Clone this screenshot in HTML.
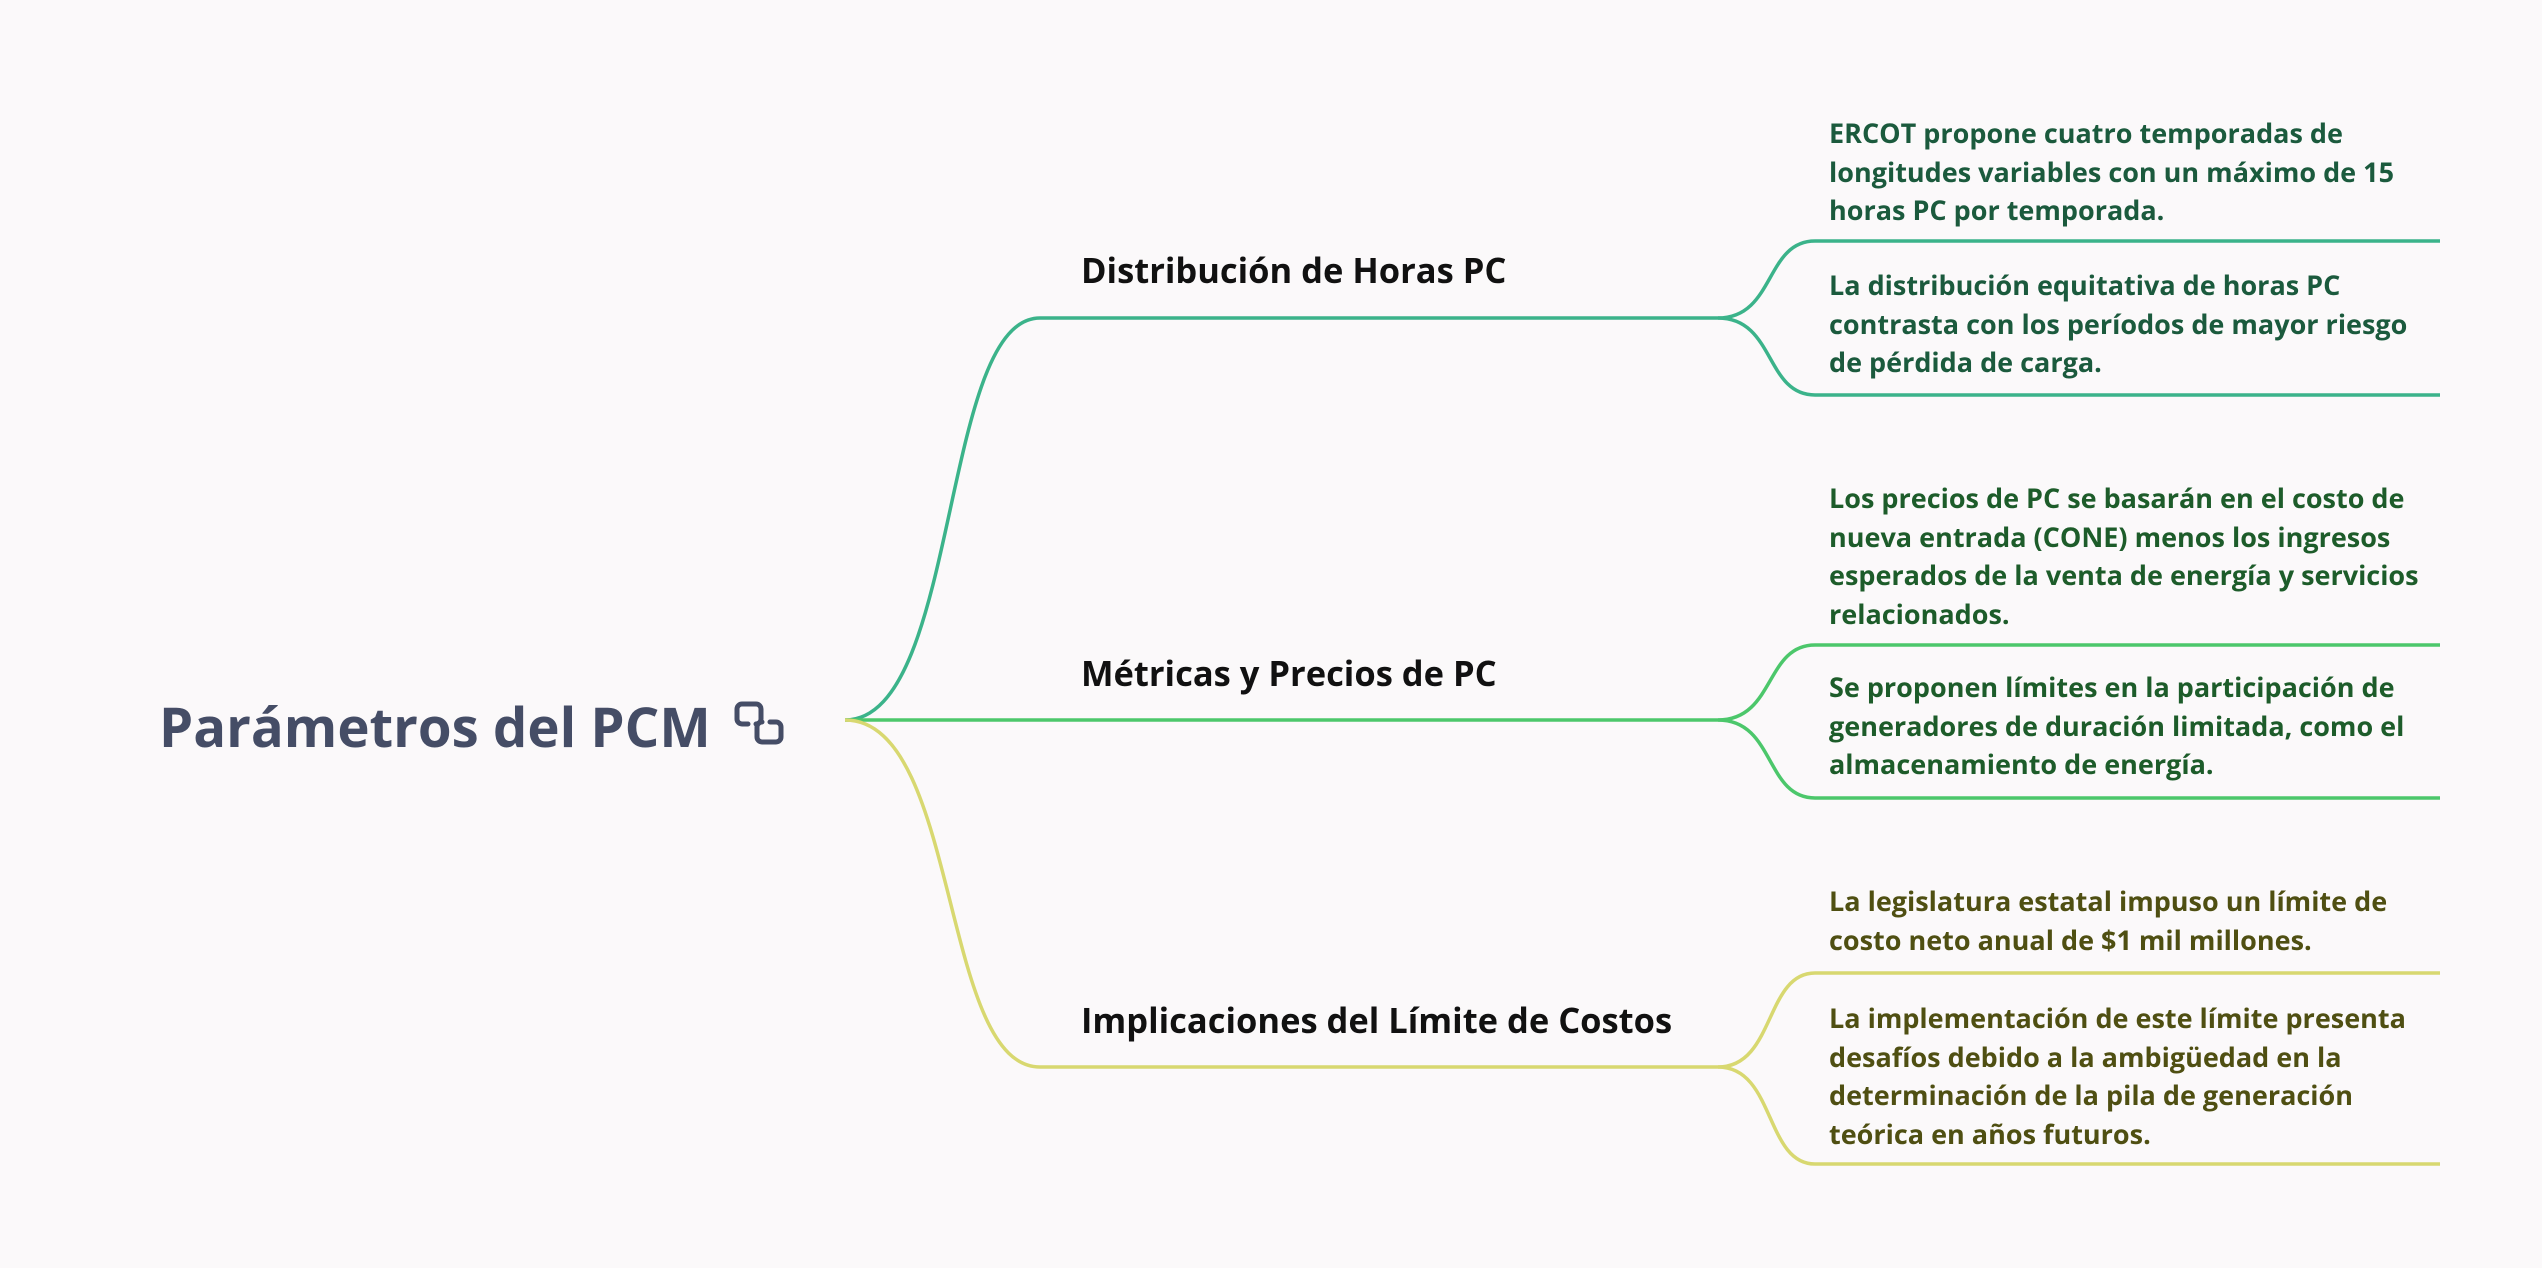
<!DOCTYPE html>
<html><head><meta charset="utf-8"><style>
html,body{margin:0;padding:0;background:#fbf9fa;}
body{width:2542px;height:1268px;position:relative;overflow:hidden;font-family:"Open Sans","Liberation Sans","DejaVu Sans",sans-serif;}
.t{position:absolute;white-space:nowrap;font-weight:bold;}
.leaf{font-size:27px;line-height:38.5px;}
.br{font-size:34.5px;color:#111;line-height:40px;}
</style></head><body>
<svg width="2542" height="1268" style="position:absolute;left:0;top:0" fill="none" stroke-width="3.5">
<g stroke="#3bb38a">
<path d="M845 720 C 960 720, 940 318, 1040 318 L1718 318"/>
<path d="M1718 318 C 1775 318, 1765 241, 1815 241 L2440 241"/>
<path d="M1718 318 C 1775 318, 1765 395, 1815 395 L2440 395"/>
</g>
<g stroke="#4cc76b">
<path d="M845 720 L1718 720"/>
<path d="M1718 720 C 1775 720, 1765 645, 1815 645 L2440 645"/>
<path d="M1718 720 C 1775 720, 1765 798, 1815 798 L2440 798"/>
</g>
<g stroke="#d8d870">
<path d="M845 720 C 960 720, 940 1067, 1040 1067 L1718 1067"/>
<path d="M1718 1067 C 1775 1067, 1765 973, 1815 973 L2440 973"/>
<path d="M1718 1067 C 1775 1067, 1765 1164, 1815 1164 L2440 1164"/>
</g>
<g stroke="#454d66" stroke-width="5" fill="none" stroke-linecap="round">
<path d="M748 724 h-6 a5 5 0 0 1 -5 -5 v-10 a5 5 0 0 1 5 -5 h14 a5 5 0 0 1 5 5 v10 a5 5 0 0 1 -5 5"/>
<path d="M770 722 h6 a5 5 0 0 1 5 5 v10 a5 5 0 0 1 -5 5 h-14 a5 5 0 0 1 -5 -5 v-10 a5 5 0 0 1 5 -5"/>
</g>
</svg>
<div class="t" style="left:159px;top:691px;font-size:54.5px;line-height:70px;color:#454d66;">Parámetros del PCM</div>
<div class="t br" style="left:1081px;top:251px;">Distribución de Horas PC</div>
<div class="t br" style="left:1081px;top:654px;">Métricas y Precios de PC</div>
<div class="t br" style="left:1081px;top:1001px;">Implicaciones del Límite de Costos</div>
<div class="t leaf" style="left:1829px;top:114px;color:#1b5a3d;">ERCOT propone cuatro temporadas de<br>longitudes variables con un máximo de 15<br>horas PC por temporada.</div>
<div class="t leaf" style="left:1829px;top:266px;color:#1b5a3d;">La distribución equitativa de horas PC<br>contrasta con los períodos de mayor riesgo<br>de pérdida de carga.</div>
<div class="t leaf" style="left:1829px;top:479px;color:#1d5c2a;">Los precios de PC se basarán en el costo de<br>nueva entrada (CONE) menos los ingresos<br>esperados de la venta de energía y servicios<br>relacionados.</div>
<div class="t leaf" style="left:1829px;top:668px;color:#1d5c2a;">Se proponen límites en la participación de<br>generadores de duración limitada, como el<br>almacenamiento de energía.</div>
<div class="t leaf" style="left:1829px;top:882px;color:#4f4f12;">La legislatura estatal impuso un límite de<br>costo neto anual de $1 mil millones.</div>
<div class="t leaf" style="left:1829px;top:999px;color:#4f4f12;">La implementación de este límite presenta<br>desafíos debido a la ambigüedad en la<br>determinación de la pila de generación<br>teórica en años futuros.</div>
</body></html>
